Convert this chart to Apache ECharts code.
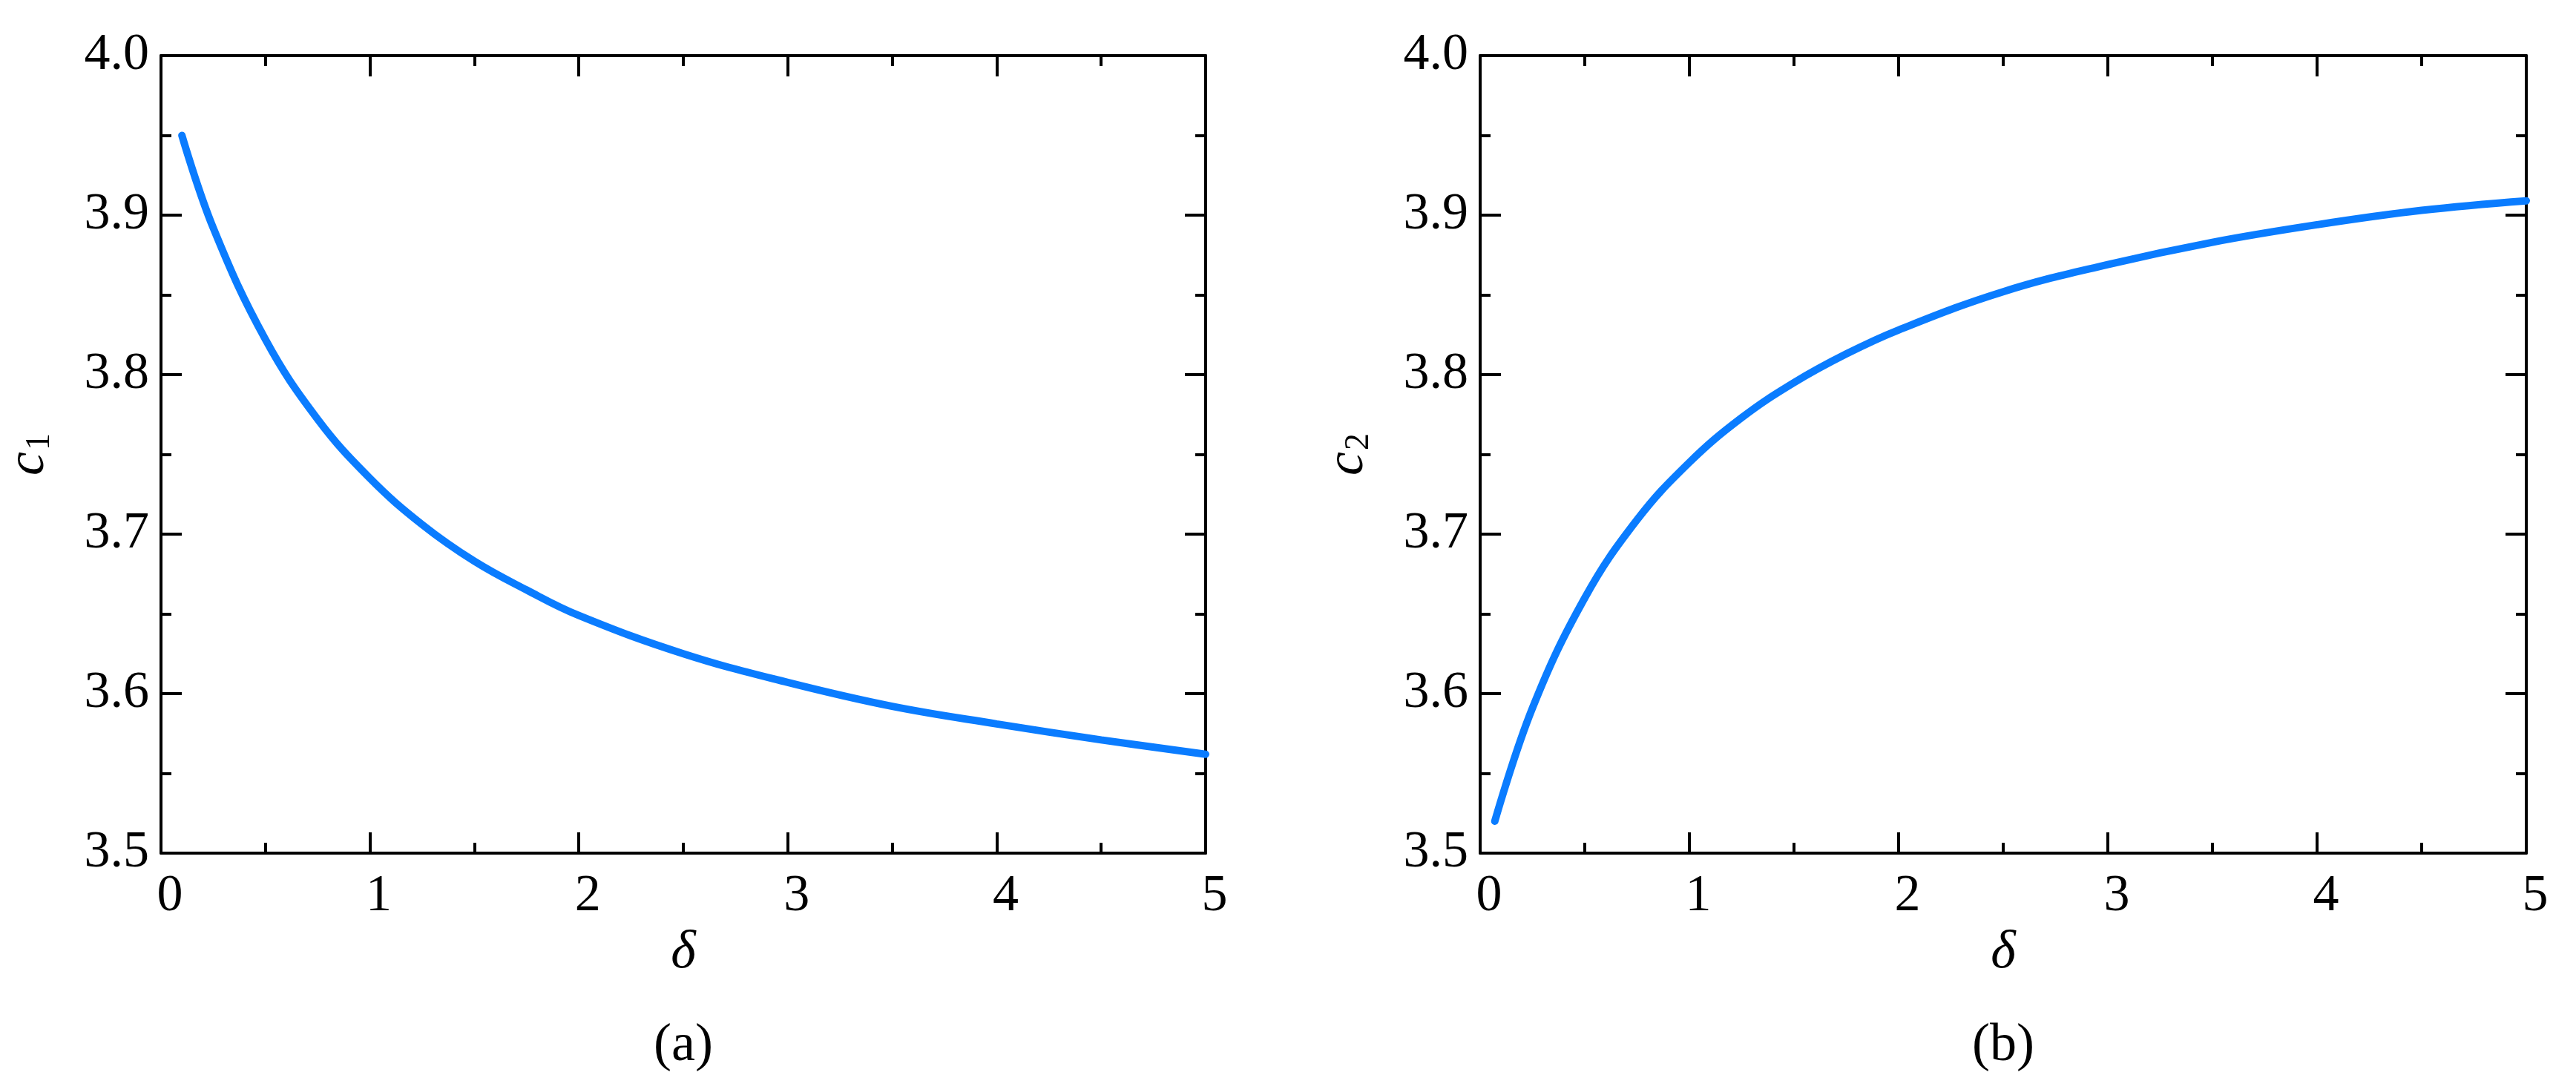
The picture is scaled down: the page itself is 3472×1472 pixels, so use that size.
<!DOCTYPE html>
<html><head><meta charset="utf-8">
<script src="https://cdn.jsdelivr.net/npm/echarts@6/dist/echarts.min.js"></script>
<style>html,body{margin:0;padding:0;background:#fff}#c{width:3472px;height:1472px}</style>
</head><body><div id="c"></div>
<script>
// ---- data ----
const deltaA = [0.1, 0.25, 0.5, 0.75, 1.0, 1.25, 1.5, 1.75, 2.0, 2.5, 3.0, 3.5, 4.0, 4.5, 5.0];
const c1Values = [3.950, 3.892, 3.822, 3.772, 3.735, 3.706, 3.683, 3.665, 3.649, 3.625, 3.607, 3.592, 3.581, 3.571, 3.562];
const deltaB = [0.07, 0.25, 0.5, 0.75, 1.0, 1.25, 1.5, 1.75, 2.0, 2.5, 3.0, 3.5, 4.0, 4.5, 5.0];
const c2Values = [3.520, 3.591, 3.660, 3.709, 3.745, 3.773, 3.795, 3.813, 3.828, 3.852, 3.869, 3.883, 3.894, 3.903, 3.909];
const xTicks = [0, 1, 2, 3, 4, 5];
const yTicks = [3.5, 3.6, 3.7, 3.8, 3.9, 4.0];
const panelLabels = ['(a)', '(b)'];
const yNames = ['1', '2'];

// ---- style ----
const FONT = "'Liberation Serif', 'Times New Roman', Times, serif";
const BLUE = '#0a7cff';
const grids = [
  {left: 217, top: 75, width: 1408, height: 1075},
  {left: 1995, top: 75, width: 1410, height: 1075}
];

const lineStyle = {color: '#000', width: 4};
function xAxisDef(gi, pos, labels) {
  return {
    type: 'value', gridIndex: gi, position: pos,
    min: xTicks[0], max: xTicks[xTicks.length - 1], interval: 1,
    axisLine: {show: true, onZero: false, lineStyle},
    axisTick: {show: true, inside: true, length: 28, lineStyle: {color: '#000', width: 4}},
    minorTick: {show: true, splitNumber: 2, length: 14, lineStyle: {color: '#000', width: 4}},
    splitLine: {show: false},
    axisLabel: {show: labels, fontFamily: FONT, fontSize: 70, color: '#000', margin: 24, padding: [0, 0, 0, 24]},
    name: labels ? 'δ' : '', nameLocation: 'middle', nameGap: 98,
    nameTextStyle: {fontFamily: FONT, fontStyle: 'italic', fontSize: 72, color: '#000'}
  };
}
function yAxisDef(gi, pos, labels, sub) {
  return {
    type: 'value', gridIndex: gi, position: pos,
    min: yTicks[0], max: yTicks[yTicks.length - 1], interval: 0.1,
    axisLine: {show: true, onZero: false, lineStyle},
    axisTick: {show: true, inside: true, length: 28, lineStyle: {color: '#000', width: 4}},
    minorTick: {show: true, splitNumber: 2, length: 14, lineStyle: {color: '#000', width: 4}},
    splitLine: {show: false},
    axisLabel: {show: labels, fontFamily: FONT, fontSize: 70, color: '#000', margin: 16,
      formatter: v => v.toFixed(1)},
    name: labels ? '{c|c}{s|' + sub + '}' : '', nameLocation: 'middle', nameGap: 140,
    nameTextStyle: {color: '#000', fontFamily: FONT, rich: {
      c: {fontFamily: FONT, fontStyle: 'italic', fontSize: 72, color: '#000'},
      s: {fontFamily: FONT, fontSize: 46, color: '#000', padding: [30, 0, 0, 2]}
    }}
  };
}

const option = {
  backgroundColor: '#fff',
  animation: false,
  textStyle: {fontFamily: FONT},
  grid: grids,
  xAxis: [xAxisDef(0, 'bottom', true), xAxisDef(0, 'top', false), xAxisDef(1, 'bottom', true), xAxisDef(1, 'top', false)],
  yAxis: [yAxisDef(0, 'left', true, yNames[0]), yAxisDef(0, 'right', false, ''), yAxisDef(1, 'left', true, yNames[1]), yAxisDef(1, 'right', false, '')],
  graphic: [
    {type: 'text', x: 921, y: 1410, style: {text: panelLabels[0], fontFamily: FONT, fontSize: 72, fill: '#000', textAlign: 'center', textVerticalAlign: 'middle'}},
    {type: 'text', x: 2700, y: 1410, style: {text: panelLabels[1], fontFamily: FONT, fontSize: 72, fill: '#000', textAlign: 'center', textVerticalAlign: 'middle'}}
  ],
  series: [
    {type: 'line', xAxisIndex: 0, yAxisIndex: 0, smooth: 0.4, showSymbol: false,
     lineStyle: {color: BLUE, width: 10, cap: 'round'}, data: deltaA.map((d, i) => [d, c1Values[i]])},
    {type: 'line', xAxisIndex: 2, yAxisIndex: 2, smooth: 0.4, showSymbol: false,
     lineStyle: {color: BLUE, width: 10, cap: 'round'}, data: deltaB.map((d, i) => [d, c2Values[i]])}
  ]
};
echarts.init(document.getElementById('c')).setOption(option);
</script>
</body></html>
